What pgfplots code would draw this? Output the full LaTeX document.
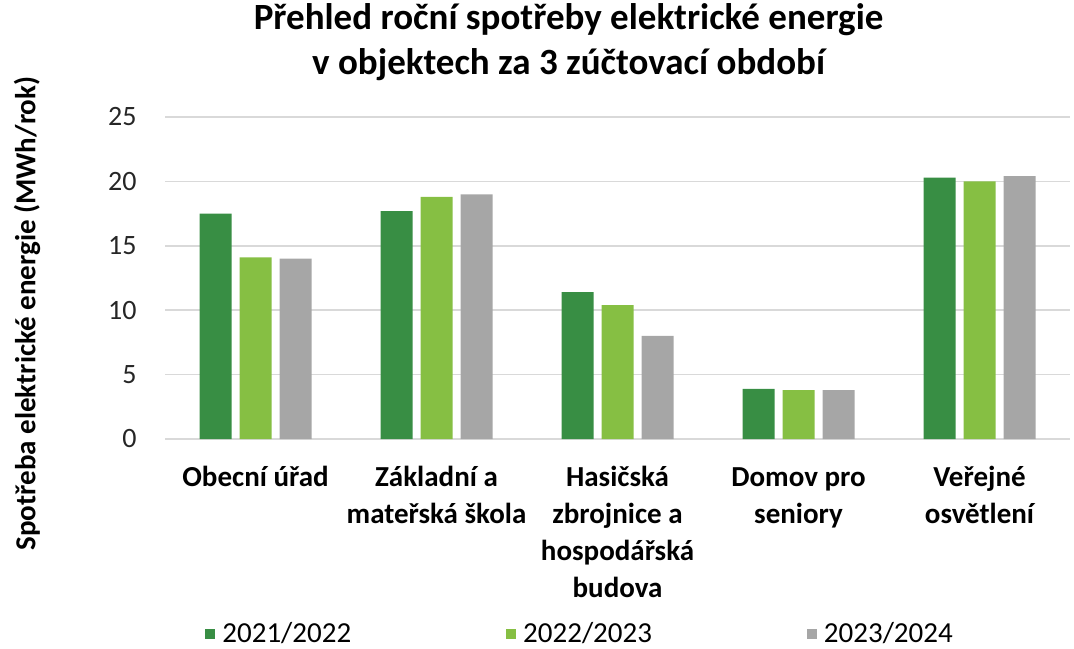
\documentclass[border=0pt]{standalone}
\usepackage{fontspec}
\setmainfont{Carlito}
\usepackage{pgfplots}
\pgfplotsset{compat=1.18}
\definecolor{dg}{HTML}{388E44}
\definecolor{lg}{HTML}{86BF43}
\definecolor{gr}{HTML}{A6A6A6}
\definecolor{gridc}{HTML}{D9D9D9}
\definecolor{tickc}{HTML}{262626}
\begin{document}
\begin{tikzpicture}
\useasboundingbox (0,0) rectangle (537pt,324pt);
\begin{axis}[
  at={(82.5pt,104.5pt)}, anchor=south west,
  scale only axis, width=452.5pt, height=161pt,
  ymin=0, ymax=25, ytick={0,5,...,25},
  xmin=-0.5, xmax=4.5, xtick={0,...,4},
  xticklabels={{\strut Obecní úřad},{\strut Základní a\\mateřská škola},{\strut Hasičská\\zbrojnice a\\hospodářská\\budova},{\strut Domov pro\\seniory},{\strut Veřejné\\osvětlení}},
  xticklabel style={align=center, anchor=north, inner sep=0pt, yshift=-10.5pt, font=\fontsize{14.5}{18.5}\selectfont\bfseries, text=black},
  /pgf/number format/assume math mode=true,
  yticklabel style={font=\fontsize{14}{17}\selectfont, text=tickc, anchor=east, inner sep=0pt, xshift=-14pt},
  ybar=4pt, bar width=16pt,
  major tick length=0pt,
  axis line style={draw=none},
  ymajorgrids, grid style={gridc, line width=0.8pt},
  title={Přehled roční spotřeby elektrické energie\\v objektech za 3 zúčtovací období},
  title style={at={(axis description cs:0.446,1)}, anchor=center, yshift=31.5pt, align=center, font=\fontsize{18.5}{22.5}\selectfont\bfseries},
  ylabel={Spotřeba elektrické energie (MWh/rok)},
  ylabel style={at={(axis description cs:-0.1525,0.39)}, anchor=center, font=\fontsize{14.5}{17}\selectfont\bfseries},
  legend style={at={(axis description cs:0.0442,-0.6056)}, anchor=west, draw=none, inner sep=0pt, font=\fontsize{14.5}{17}\selectfont, legend columns=3, /tikz/every even column/.append style={column sep=75.5pt}, /tikz/every odd column/.append style={column sep=1.5pt}},
  legend image code/.code={\fill[#1] (0pt,-2.5pt) rectangle (5pt,2.5pt);},
]
\addplot[fill=dg, draw=none] coordinates {(0,17.5) (1,17.7) (2,11.4) (3,3.9) (4,20.3)};
\addplot[fill=lg, draw=none] coordinates {(0,14.1) (1,18.8) (2,10.4) (3,3.8) (4,20.0)};
\addplot[fill=gr, draw=none] coordinates {(0,14.0) (1,19.0) (2,8.0) (3,3.8) (4,20.4)};
\legend{2021/2022,2022/2023,2023/2024}
\end{axis}
\end{tikzpicture}
\end{document}
